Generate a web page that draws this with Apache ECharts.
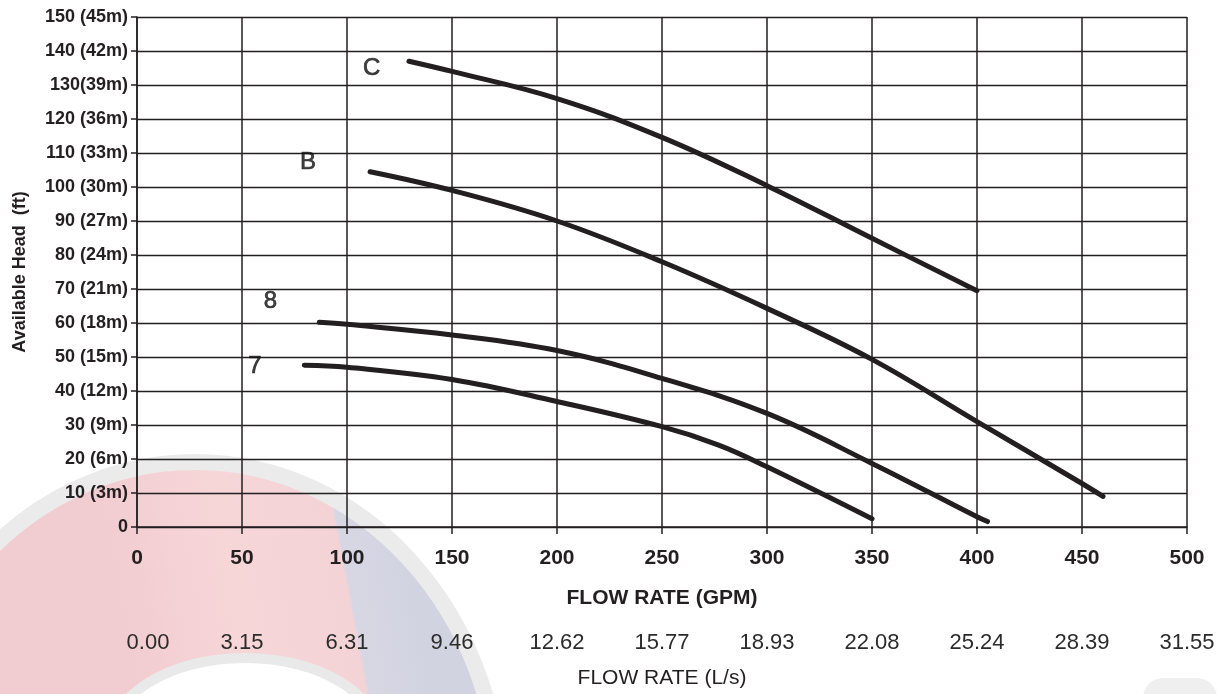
<!DOCTYPE html>
<html>
<head>
<meta charset="utf-8">
<script src="https://cdn.jsdelivr.net/npm/echarts@6/dist/echarts.min.js"></script>
<style>
html,body{margin:0;padding:0;background:#fff;}
#chart{width:1222px;height:694px;}
</style>
</head>
<body>
<div id="chart"></div>
<script>
// ---- data ----
const yTickLabels = ['0','10 (3m)','20 (6m)','30 (9m)','40 (12m)','50 (15m)','60 (18m)','70 (21m)','80 (24m)','90 (27m)','100 (30m)','110 (33m)','120 (36m)','130(39m)','140 (42m)','150 (45m)'];
const lpsTickLabels = ['0.00','3.15','6.31','9.46','12.62','15.77','18.93','22.08','25.24','28.39','31.55'];

const curveC = [[129.5,137],[150,134],[200,126],[250,114.6],[300,100.4],[350,84.9],[400,69.5]];
const curveB = [[111,104.5],[150,99],[200,90],[250,78],[300,64.3],[350,49.3],[400,31],[450,12.8],[460,9]];
const curve8 = [[86.8,60.2],[100,59.6],[150,56.5],[200,51.9],[250,43.7],[300,33.4],[350,18.7],[400,3],[405,1.6]];
const curve7 = [[79.7,47.6],[100,47],[150,43.4],[200,36.9],[250,29.5],[277,24.1],[300,17.7],[350,2.4]];

const curveNames = ['C','B','8','7'];
const curveNameAnchors = [[111.8,134.9],[81.4,107.1],[63.5,66.3],[56.2,47.1]];

// ---- chart ----
const ink = '#231f20';
const chart = echarts.init(document.getElementById('chart'), null, {renderer:'canvas'});

function curveSeries(name, data){
  return {
    name: name, type:'line', data: data, smooth: 0.4, showSymbol:false, z:3,
    lineStyle:{color:ink, width:5, cap:'round', join:'round'},
    itemStyle:{color:ink}, silent:true
  };
}

const option = {
  backgroundColor:'#ffffff',
  animation:false,
  textStyle:{fontFamily:'Liberation Sans, Arial, sans-serif'},
  graphic:[
    {type:'ellipse', z:-20, silent:true,
     shape:{cx:195, cy:800, rx:305, ry:338},
     style:{
       fill:{type:'linear', global:true, x:100, y:527, x2:394.5, y2:472, colorStops:[
         {offset:0, color:'#f1ccd0'},{offset:0.4, color:'#f7d6d8'},{offset:0.772, color:'#f3d3d6'},
         {offset:0.782, color:'#d7d7e4'},{offset:1, color:'#d2d3e1'}]},
       stroke:'#ebebeb', lineWidth:16}},
    {type:'ellipse', z:-19, silent:true,
     shape:{cx:245, cy:740, rx:135, ry:82},
     style:{fill:'#ffffff', stroke:'#e9e9e9', lineWidth:10}},
    {type:'rect', z:-19, silent:true,
     shape:{x:1143, y:678, width:74, height:40, r:20},
     style:{fill:'#efefef'}}
  ],
  grid:{left:137, right:35, top:17, bottom:167, containLabel:false},
  xAxis:[
    {type:'value', min:0, max:500, interval:50, position:'bottom',
     name:'FLOW RATE (GPM)', nameLocation:'middle', nameGap:61,
     nameTextStyle:{color:ink, fontSize:21, fontWeight:'bold'},
     axisLine:{show:true, lineStyle:{color:ink, width:1.5}},
     axisTick:{show:true, length:7, lineStyle:{color:ink, width:1.5}},
     axisLabel:{color:ink, fontSize:21, fontWeight:'bold', margin:21},
     splitLine:{show:true, lineStyle:{color:ink, width:1.5}}
    },
    {type:'value', min:0, max:500, interval:50, position:'bottom', gridIndex:0,
     name:'FLOW RATE (L/s)', nameLocation:'middle', nameGap:141,
     nameTextStyle:{color:ink, fontSize:21},
     axisLine:{show:false}, axisTick:{show:false}, splitLine:{show:false},
     axisLabel:{color:'#2b2b2b', fontSize:22, margin:105,
       formatter:function(v){ const i = Math.round(v/50); return i===0 ? '{a|'+lpsTickLabels[i]+'}' : lpsTickLabels[i]; },
       rich:{a:{fontSize:22, color:'#2b2b2b', padding:[0,0,0,22]}}}
    }
  ],
  yAxis:{type:'value', min:0, max:150, interval:10,
    name:'Available Head  (ft)', nameLocation:'middle', nameGap:108, nameRotate:90,
    nameTextStyle:{color:ink, fontSize:18, fontWeight:'bold'},
    axisLine:{show:true, lineStyle:{color:ink, width:1.5}},
    axisTick:{show:true, length:6, lineStyle:{color:ink, width:1.5}},
    axisLabel:{color:ink, fontSize:18, fontWeight:'bold', margin:9,
      formatter:function(v){ return yTickLabels[Math.round(v/10)]; }},
    splitLine:{show:true, lineStyle:{color:ink, width:1.3}}
  },
  series:[
    curveSeries('C', curveC),
    curveSeries('B', curveB),
    curveSeries('8', curve8),
    curveSeries('7', curve7),
    {type:'scatter', symbolSize:0, z:4, silent:true,
     data: curveNames.map((n,i)=>({name:n, value:curveNameAnchors[i]})),
     label:{show:true, position:'inside', formatter:'{b}', color:'#111', fontSize:24,
            textBorderColor:'#111', textBorderWidth:0.7}}
  ]
};
chart.setOption(option);
</script>
</body>
</html>
